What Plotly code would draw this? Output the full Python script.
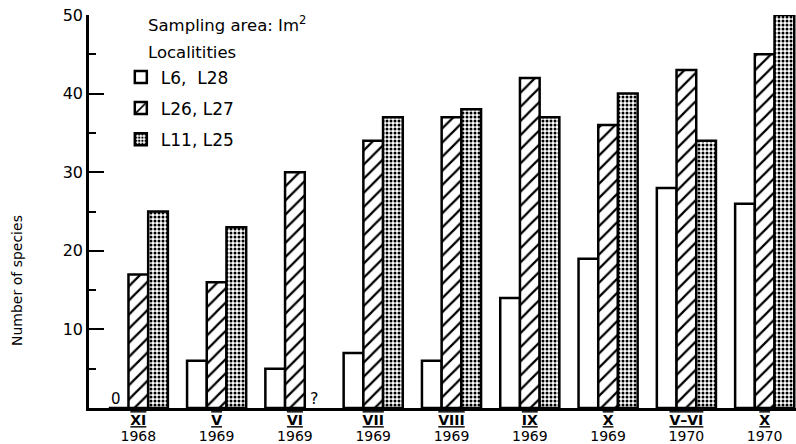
import plotly.graph_objects as go

categories = ["XI 1968", "V 1969", "VI 1969", "VII 1969", "VIII 1969",
              "IX 1969", "X 1969", "V-VI 1970", "X 1970"]
months = ["XI", "V", "VI", "VII", "VIII", "IX", "X", "V–VI", "X"]
years = ["1968", "1969", "1969", "1969", "1969", "1969", "1969", "1970", "1970"]

l6_l28 = [0, 6, 5, 7, 6, 14, 19, 28, 26]
l26_l27 = [17, 16, 30, 34, 37, 42, 36, 43, 45]
l11_l25 = [25, 23, None, 37, 38, 37, 40, 34, 50]

series_names = ["L6,  L28", "L26, L27", "L11, L25"]
y_ticks = [10, 20, 30, 40, 50]
y_minor = [5, 15, 25, 35, 45]

FONT = "DejaVu Sans"
ticktext = [
    "<span style='font-weight:bold;font-size:14px;"
    "text-decoration:overline underline'>%s</span><br>"
    "<span style='font-size:14px'>%s</span>" % (m, y)
    for m, y in zip(months, years)
]

line = dict(color="black", width=2.5)
fig = go.Figure()
fig.add_trace(go.Bar(x=categories, y=l6_l28, name=series_names[0],
                     marker=dict(color="white", line=line),
                     legendgroup="a"))
fig.add_trace(go.Bar(x=categories, y=l26_l27, name=series_names[1],
                     marker=dict(color="white", line=line,
                                 pattern=dict(shape="/", size=10, solidity=0.22,
                                              fgcolor="black", bgcolor="white",
                                              fillmode="replace")),
                     legendgroup="b"))
fig.add_trace(go.Bar(x=categories, y=l11_l25, name=series_names[2],
                     marker=dict(color="white", line=line,
                                 pattern=dict(shape=".", size=4, solidity=0.45,
                                              fgcolor="black", bgcolor="white",
                                              fillmode="replace")),
                     legendgroup="c"))

fig.update_layout(
    width=796, height=444,
    margin=dict(l=89, r=0, t=15, b=36),
    plot_bgcolor="white", paper_bgcolor="white",
    barmode="group", bargap=0.245, bargroupgap=0,
    font=dict(family=FONT, color="black"),
    showlegend=True,
    legend=dict(x=0.045, y=0.887, xanchor="left", yanchor="top",
                font=dict(size=17, family=FONT), tracegroupgap=6,
                bgcolor="rgba(0,0,0,0)", itemclick=False),
    xaxis=dict(range=[-0.63, 8.4], showline=True, linecolor="black", linewidth=2.5,
               ticks="", tickvals=categories, ticktext=ticktext, automargin=False,
               tickfont=dict(size=12, family=FONT), showgrid=False, zeroline=False),
    yaxis=dict(range=[0, 50], showline=True, linecolor="black", linewidth=2.5,
               ticks="inside", ticklen=15, tickwidth=2, tickcolor="black",
               tickvals=y_ticks, tickfont=dict(size=16, family=FONT), automargin=False,
               minor=dict(ticks="inside", ticklen=7, tickwidth=2, tickcolor="black",
                          tickvals=y_minor),
               showgrid=False, zeroline=False),
    annotations=[
        dict(text="Sampling area: Im<sup>2</sup>", xref="paper", yref="paper",
             x=(146 - 89) / 707, y=(408 - 24) / 393, xanchor="left", yanchor="middle",
             showarrow=False, font=dict(size=16.5, family=FONT)),
        dict(text="Localitities", xref="paper", yref="paper",
             x=(146 - 89) / 707, y=(408 - 52) / 393, xanchor="left", yanchor="middle",
             showarrow=False, font=dict(size=16.5, family=FONT)),
        dict(text="Number of species", xref="paper", yref="paper",
             x=-(89 - 17) / 707, y=(408 - 281) / 393, textangle=-90,
             xanchor="center", yanchor="middle", showarrow=False,
             font=dict(size=14, family=FONT)),
        dict(text="0", x=categories[0], y=0, xshift=-22, yshift=9, showarrow=False,
             font=dict(size=15, family=FONT)),
        dict(text="?", x=categories[2], y=0, xshift=20, yshift=10, showarrow=False,
             font=dict(size=16, family=FONT)),
    ],
)

fig.write_html("out.html", config={"displayModeBar": False},
               post_script="document.body.style.margin='0';")
